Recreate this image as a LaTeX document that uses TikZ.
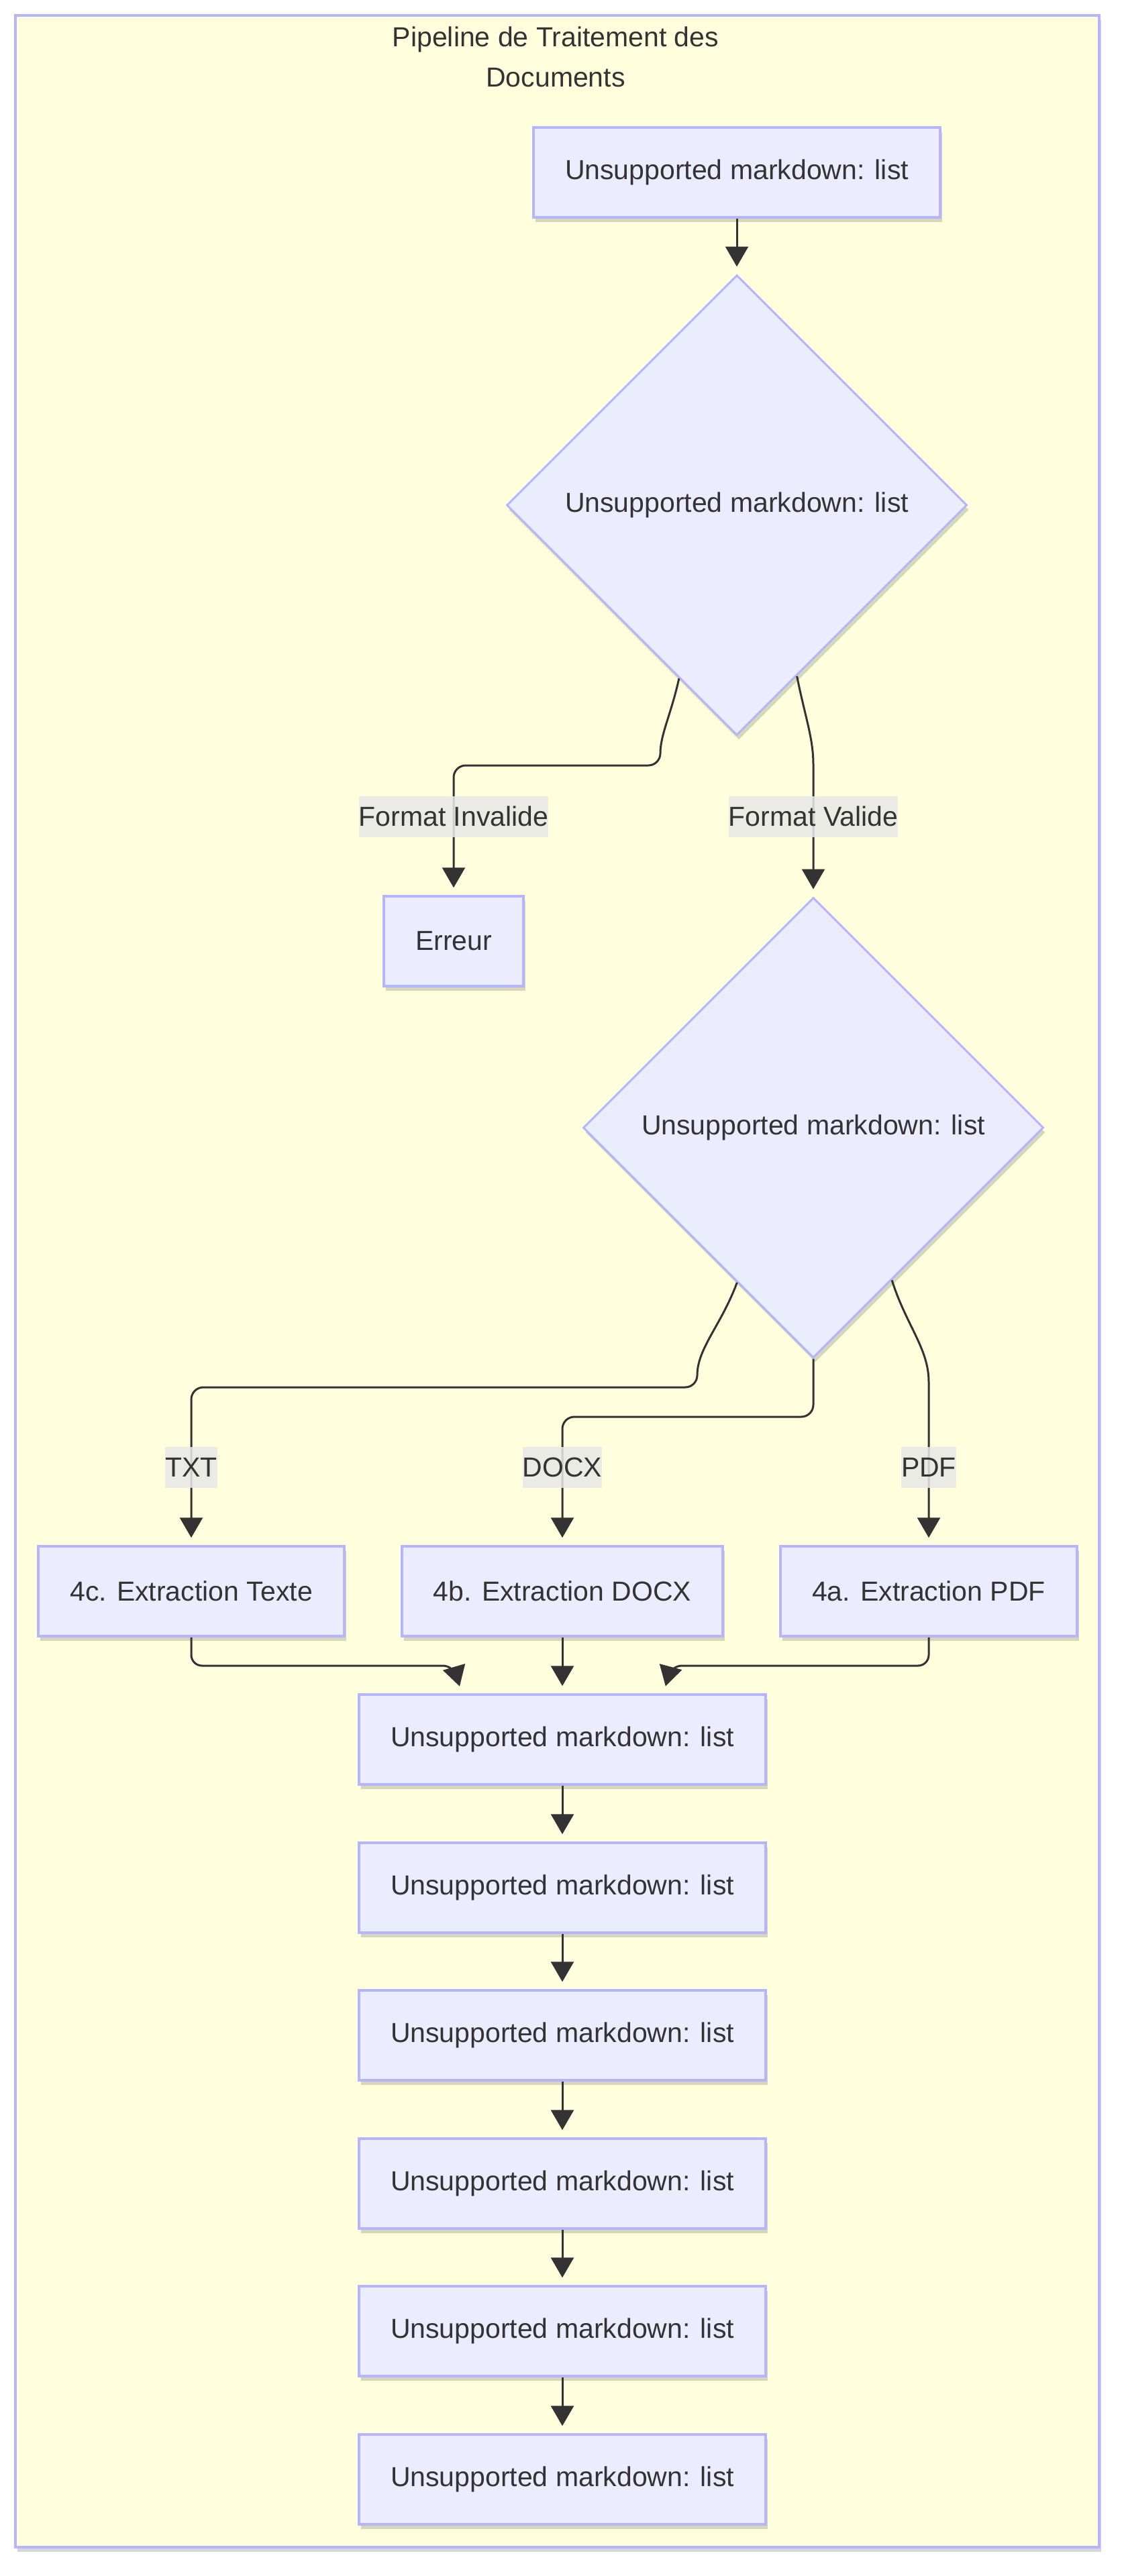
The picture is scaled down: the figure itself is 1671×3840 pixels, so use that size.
\documentclass[tikz,border=0pt]{standalone}
\usepackage{fontspec}
\setmainfont{Liberation Sans}
\usetikzlibrary{arrows.meta, shapes.geometric, shadows, calc}

\definecolor{nodefill}{HTML}{ECECFF}
\definecolor{nodeline}{HTML}{B4B4FF}
\definecolor{groupfill}{HTML}{FFFFDE}
\definecolor{ink}{HTML}{333333}
\definecolor{lblfill}{HTML}{E8E8E8}

\tikzset{
  softshadow/.style={drop shadow={shadow xshift=3pt, shadow yshift=-7pt, opacity=0.16, fill=black}},
  box/.style={draw=nodeline, fill=nodefill, line width=3.5pt, inner xsep=47pt, inner ysep=0pt,
    minimum height=134pt, text=ink, softshadow},
  decision/.style={diamond, draw=nodeline, fill=nodefill, line width=3pt, inner sep=0pt,
    minimum width=686pt, minimum height=686pt, text=ink, softshadow},
  lbl/.style={sharp corners, fill=lblfill, fill opacity=0.85, text opacity=1, text=ink,
    inner xsep=0pt, inner ysep=0pt, minimum height=61pt},
  flow/.style={draw=ink, line width=3pt, -{Triangle[length=30pt, width=34pt]}, shorten >=11pt},
}

\begin{document}
\begin{tikzpicture}[x=1pt, y=-1pt, font=\fontsize{41}{49}\selectfont]
\fill[white] (0,0) rectangle (1671,3840);
\useasboundingbox (0,0) rectangle (1671,3840);

% group
\draw[draw=nodeline, fill=groupfill, line width=3.5pt, softshadow] (23,23) rectangle (1638,3797);
\node[align=center, text=ink, font=\fontsize{41}{60}\selectfont] (title) at (828,85)
  {Pipeline de Traitement des\\Documents};

\node[box] (1) at (1098,257) {Unsupported markdown: list};
\node[decision] (2) at (1098,753) {Unsupported markdown: list};
\node[box] (3) at (676,1403) {Erreur};
\node[decision] (4) at (1212,1681) {Unsupported markdown: list};
\node[box] (5c) at (285,2372) {4c. Extraction Texte};
\node[box] (5b) at (838,2372) {4b. Extraction DOCX};
\node[box] (5a) at (1384,2372) {4a. Extraction PDF};
\node[box] (7) at (838,2593) {Unsupported markdown: list};
\node[box] (8) at (838,2814) {Unsupported markdown: list};
\node[box] (9) at (838,3034) {Unsupported markdown: list};
\node[box] (10) at (838,3255) {Unsupported markdown: list};
\node[box] (11) at (838,3475) {Unsupported markdown: list};
\node[box] (12) at (838,3696) {Unsupported markdown: list};

\coordinate (2l) at ($(2.south)!0.25!(2.west)$);
\coordinate (2r) at ($(2.south)!0.26!(2.east)$);
\coordinate (4l) at ($(4.south)!0.33!(4.west)$);
\coordinate (4r) at ($(4.south)!0.34!(4.east)$);
\coordinate (7l) at ($(7.north)+(-150,0)$);
\coordinate (7r) at ($(7.north)+(151,0)$);

\path (1) edge[flow] (2);
\draw[flow] (2l) .. controls (1000,1065) and (984,1095) .. (984,1123)
  to[out=-90, in=0] (966,1141) -- (694,1141) to[out=180, in=90] (676,1159)
  -- (676,1217) node[lbl] {Format Invalide} -- (3);
\draw[flow] (2r) .. controls (1200,1070) and (1212,1100) .. (1212,1140)
  -- (1212,1217) node[lbl] {Format Valide} -- (4);

\draw[flow] (4l) .. controls (1075,1975) and (1039,2010) .. (1039,2050)
  to[out=-90, in=0] (1021,2068) -- (303,2068) to[out=180, in=90] (285,2086)
  -- (285,2187) node[lbl] {TXT} -- (5c);
\draw[flow] (4.south) -- (1212,2094) to[out=-90, in=0] (1194,2112) -- (856,2112)
  to[out=180, in=90] (838,2130) -- (838,2187) node[lbl] {DOCX} -- (5b);
\draw[flow] (4r) .. controls (1350,1975) and (1384,2010) .. (1384,2060)
  -- (1384,2187) node[lbl] {PDF} -- (5a);

\draw[flow, rounded corners=16pt] (5c) |- (676,2483) -- (7l);
\path (5b) edge[flow] (7);
\draw[flow, rounded corners=16pt] (5a) |- (1000,2483) -- (7r);

\path (7) edge[flow] (8)
      (8) edge[flow] (9)
      (9) edge[flow] (10)
      (10) edge[flow] (11)
      (11) edge[flow] (12);
\end{tikzpicture}
\end{document}
